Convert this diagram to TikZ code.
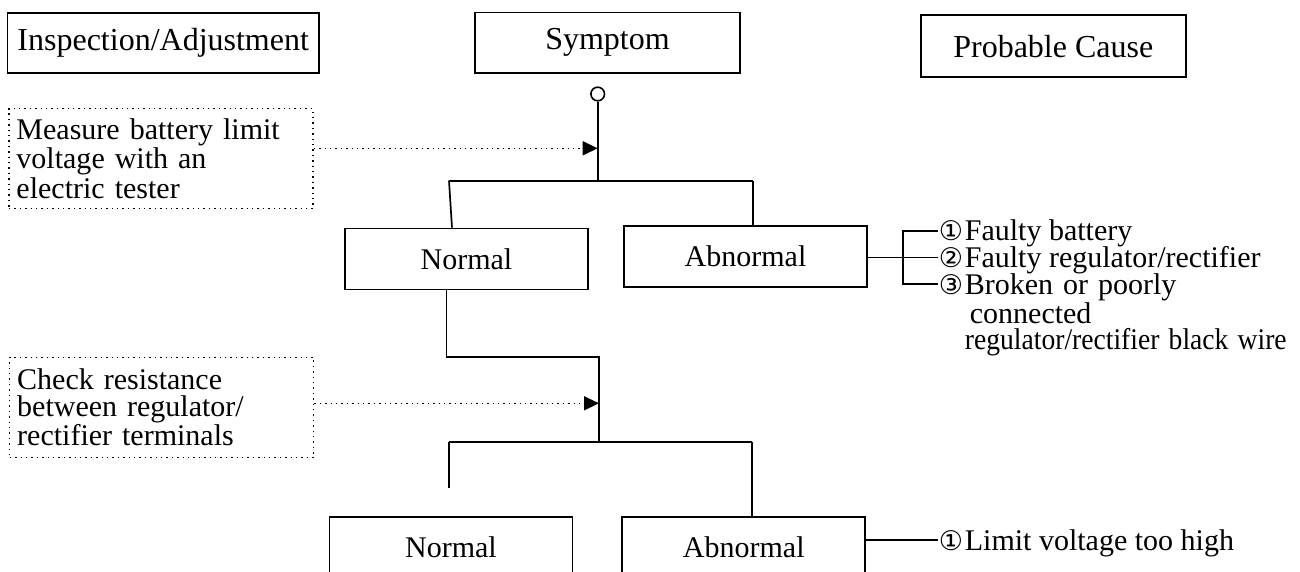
\documentclass[tikz,border=0pt]{standalone}
\usepackage{fontspec}
\setmainfont{Liberation Serif}
\newfontfamily\circfont{DejaVu Sans}
\usetikzlibrary{arrows.meta,calc}

\begin{document}
\begin{tikzpicture}[x=0.5pt,y=-0.5pt, line width=0.85pt,
    headbox/.style={draw, line width=0.9pt, inner sep=0pt, font=\fontsize{16}{18}\selectfont},
    result/.style={draw, line width=0.9pt, inner sep=0pt, minimum width=121.5pt, minimum height=30.5pt, font=\fontsize{15}{18}\selectfont},
    check/.style={draw, dotted, line width=0.7pt, anchor=north west, align=left, text width=144.5pt,
                  inner xsep=3.75pt, inner ysep=0pt, minimum height=50pt, font=\fontsize{15}{13.3}\selectfont},
    probe/.style={dotted, line width=0.7pt, -{Triangle[length=7.5pt,width=7pt]}},
    num/.style={anchor=base east, inner sep=0pt, font={\circfont\fontsize{13.5}{15}\selectfont}},
    cause/.style={anchor=base west, inner sep=0pt, align=left, font=\fontsize{15}{13.3}\selectfont}]
  \useasboundingbox (0,0) rectangle (1300,572);
  % column heads
  \node[headbox, minimum width=155.8pt, minimum height=30pt] (insp) at (163.2,42.7) {Inspection/Adjustment};
  \node[headbox, minimum width=132.5pt, minimum height=30.2pt] (symp) at (607.5,42.8) {Symptom};
  \node[headbox, minimum width=132.7pt, minimum height=31.2pt] (prob) at (1053.3,46.2) {Probable Cause};
  \node[draw, circle, inner sep=0pt, minimum size=6.8pt, line width=0.8pt] (start) at (597.7,94) {};
  % first check: limit voltage
  \node[check] (chk1) at (8.3,108) {Measure battery limit\\voltage with an\\electric tester};
  \node[result] (nb1) at (466.5,259) {Normal};
  \node[result] (ab1) at (745.5,256.7) {Abnormal};
  \coordinate (p1) at (597.7,148.3);
  \coordinate (j1) at (597.7,180.7);
  \coordinate (k1) at (449,180.7);
  \coordinate (k2) at (753,180.7);
  \draw (start) -- (j1);
  \draw[probe] (chk1.east |- p1) -- (p1);
  \draw (k1) -- (k2);
  \draw (k1) -- ([xshift=1.5pt]k1 |- nb1.north);
  \draw (k2) -- (k2 |- ab1.north);
  % causes of abnormal limit voltage
  \node[cause] (c1) at (964,240.7) {Faulty battery};
  \node[cause] (c2) at (964,267.3) {Faulty regulator/rectifier};
  \node[cause, text width=200pt] (c3) at (964,294)
    {Broken or poorly\\\,connected\\\scalebox{0.92}[1]{regulator/rectifier black wire}};
  \node[num] (n1) at (c1.base west) {①};
  \node[num] (n2) at (c2.base west) {②};
  \node[num] (n3) at (c3.base west) {③};
  \coordinate (br) at (903,258);
  \draw (n1.west) -- (n1.west -| br) -- (n3.west -| br) -- (n3.west);
  \draw (n2.west -| ab1.east) -- (n2.west);
  % second check: regulator/rectifier
  \node[check] (chk2) at (9,356.7) {Check resistance\\between regulator/\\rectifier terminals};
  \node[result] (nb2) at (451,547.2) {Normal};
  \node[result] (ab2) at (743.8,547.2) {Abnormal};
  \coordinate (m1) at (446.5,356.7);
  \coordinate (j2) at (599,356.7);
  \coordinate (j3) at (599,441.7);
  \coordinate (p2) at (599,403.3);
  \coordinate (k3) at (449,441.7);
  \coordinate (k4) at (751.7,441.7);
  \draw (m1 |- nb1.south) -- (m1) -- (j2) -- (j3);
  \draw[probe] (chk2.east |- p2) -- (p2);
  \draw (k3) -- (k4);
  \draw (k3) -- ++(0,46.3);
  \draw (k4) -- (k4 |- ab2.north);
  \node[cause] (c4) at (964,550) {Limit voltage too high};
  \node[num] (n4) at (c4.base west) {①};
  \draw (n4.west -| ab2.east) -- (n4.west);
\end{tikzpicture}
\end{document}
